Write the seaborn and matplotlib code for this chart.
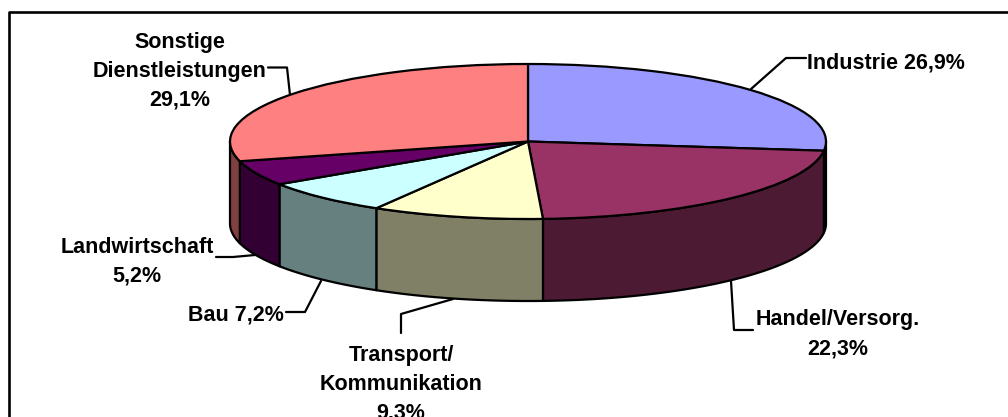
import numpy as np
import matplotlib
matplotlib.use("Agg")
import matplotlib.pyplot as plt
import seaborn as sns

# Data
categories = ["Industrie", "Handel/Versorg.", "Transport/\nKommunikation", "Bau", "Landwirtschaft", "Sonstige\nDienstleistungen"]
shares = [26.9, 22.3, 9.3, 7.2, 5.2, 29.1]
top_colors = ["#9999FF", "#993366", "#FFFFCC", "#CCFFFF", "#660066", "#FF8080"]
side_colors = ["#4C4C80", "#4C1A33", "#808066", "#668080", "#330033", "#804040"]
label_texts = ["Industrie 26,9%", "Handel/Versorg.\n22,3%", "Transport/\nKommunikation\n9,3%",
               "Bau 7,2%", "Landwirtschaft\n5,2%", "Sonstige\nDienstleistungen\n29,1%"]

# Layout (pixels of the 1008x417 picture)
W, H = 1008, 417
CX, CY, RX, RY, DEPTH = 528.0, 141.5, 298.0, 77.5, 82.0
label_pos = [(885.5, 62.5), (838, 334), (401, 384), (236, 315.5), (137, 261.5), (180, 71)]
leaders = [
    [(806, 58), (786, 58), (751, 89)],
    [(731, 281), (734, 330), (753, 330)],
    [(453, 299), (401, 314), (401, 333)],
    [(321, 281), (305, 312), (286, 312)],
    [(216, 257), (233, 257), (255, 255)],
    [(268, 67.5), (287, 67.5), (290, 95)],
]

sns.set_theme(style="white")
plt.rcParams["font.family"] = ["Liberation Sans", "DejaVu Sans"]
LW = 1.6


def to_x(px):
    return (px - CX) / RX


def to_y(py):
    return (CY - py) / RY


fig, ax = plt.subplots(figsize=(W / 100, H / 100), dpi=100)
fig.subplots_adjust(0, 0, 1, 1)
palette = sns.color_palette(top_colors)

# top face: a pie squashed by the axes scales
wedges, _ = ax.pie(shares, startangle=90, counterclock=False, colors=palette,
                   wedgeprops=dict(edgecolor="black", linewidth=LW, zorder=3, joinstyle="round"))
ax.set_aspect("auto")
ax.set_xlim(to_x(0), to_x(W))
ax.set_ylim(to_y(H), to_y(0))
ax.set_axis_off()

# side walls: visible part of each slice (clockwise angle from 12 o'clock, 90..270)
d = DEPTH / RY
edges = np.concatenate([[0], np.cumsum(shares)]) / np.sum(shares) * 360
for a0, a1, col in zip(edges[:-1], edges[1:], side_colors):
    lo, hi = max(a0, 90), min(a1, 270)
    if hi <= lo:
        continue
    t = np.radians(np.linspace(lo, hi, 80))
    x, y = np.sin(t), np.cos(t)
    ax.fill(np.r_[x, x[::-1]], np.r_[y, y[::-1] - d], facecolor=col, edgecolor="black",
            linewidth=LW, zorder=2, joinstyle="round")

# labels and leader lines
for txt, (px, py) in zip(label_texts, label_pos):
    ax.text(to_x(px), to_y(py), txt, ha="center", va="center", ma="center", fontsize=15.5,
            fontweight="bold", color="black", linespacing=1.5, zorder=5, clip_on=False)
for pts in leaders:
    ax.plot([to_x(p[0]) for p in pts], [to_y(p[1]) for p in pts], color="black", lw=LW, zorder=1,
            solid_joinstyle="round")

# outer frame, cut by the picture edge
ax.plot([to_x(9), to_x(9), to_x(W + 5)], [to_y(H + 5), to_y(12), to_y(12)], color="black", lw=1.9, zorder=6)

fig.savefig("out.png", dpi=100, facecolor="white")
